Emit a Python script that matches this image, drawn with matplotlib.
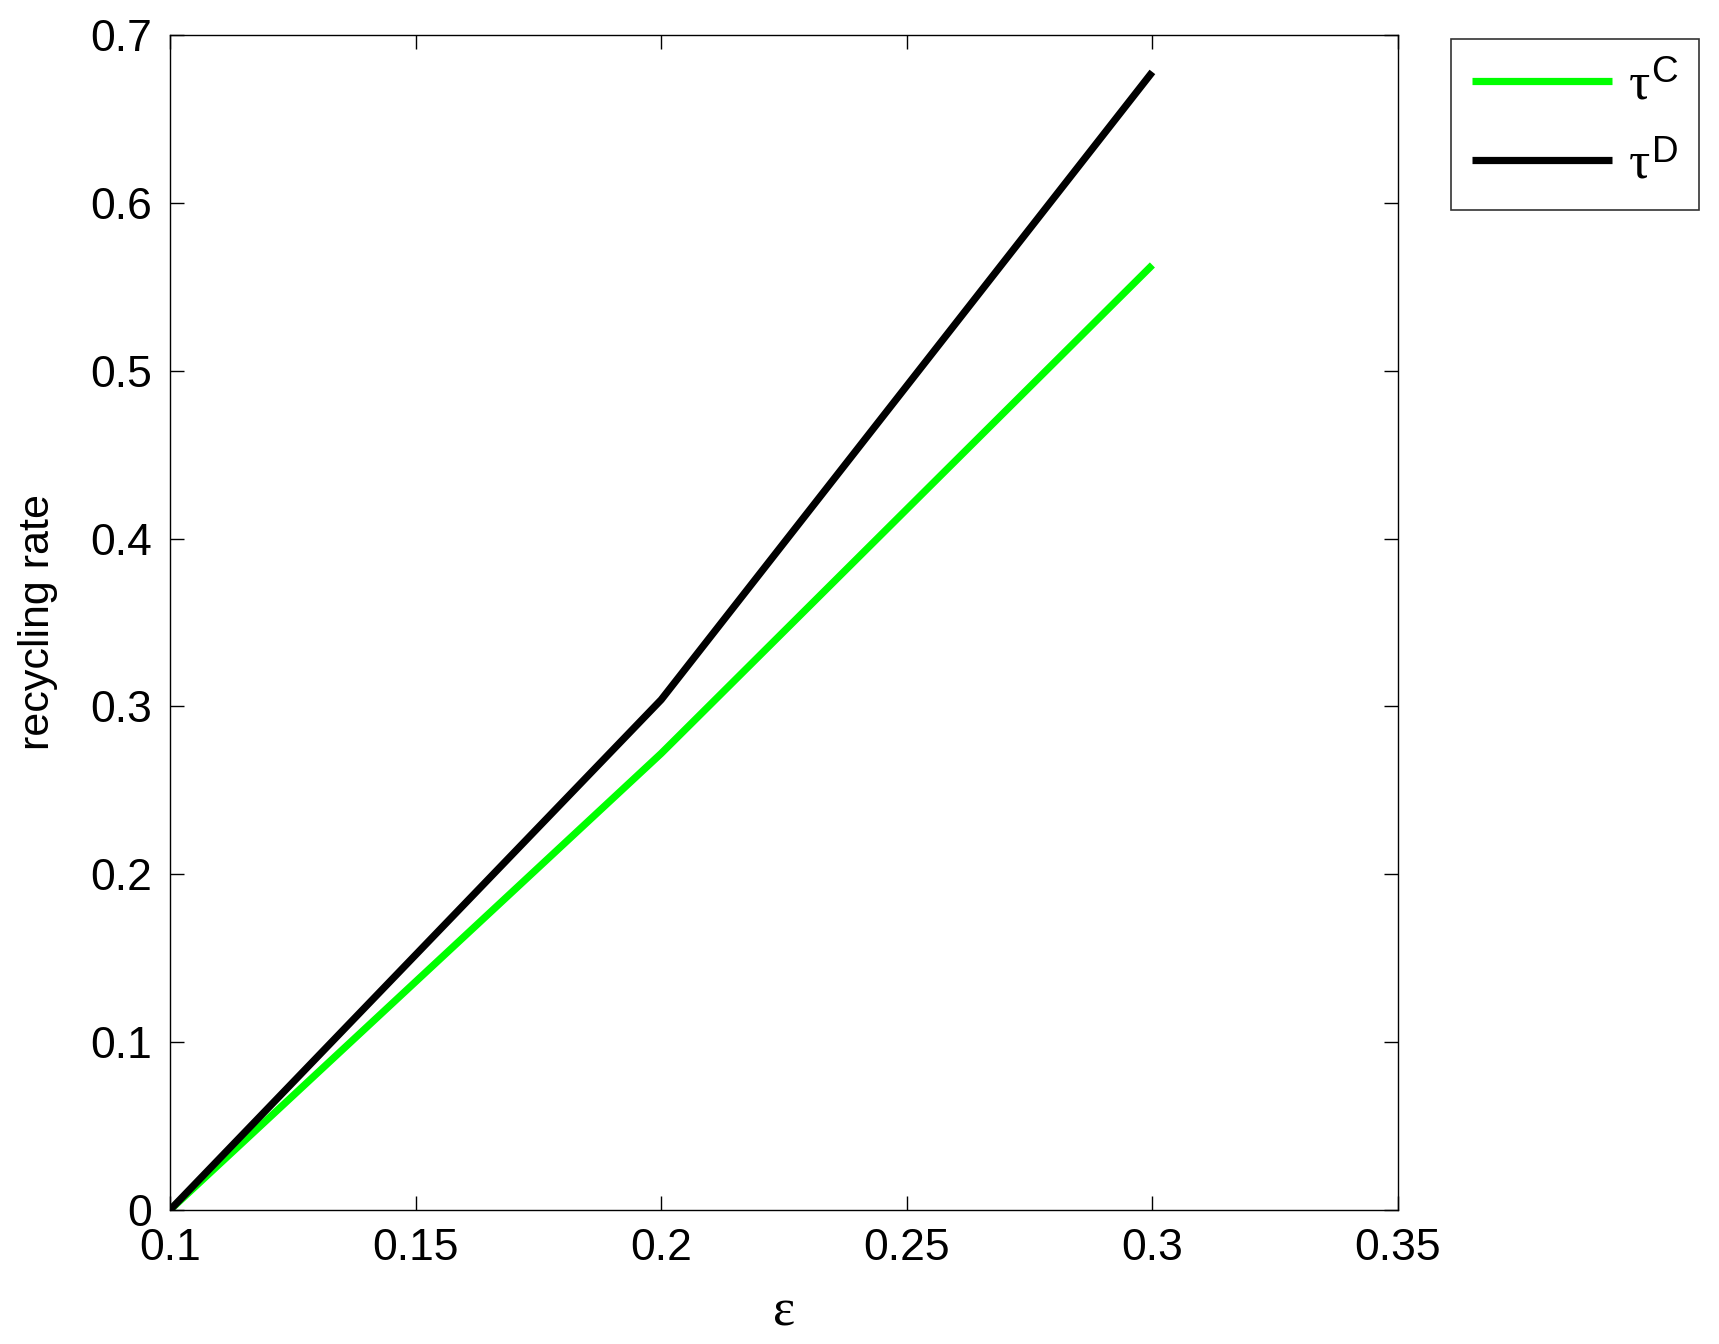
import matplotlib
matplotlib.use("Agg")
from matplotlib import pyplot as plt

eps = [0.1, 0.2, 0.3]
tau_c = [0.0, 0.272, 0.563]
tau_d = [0.0, 0.304, 0.678]

xticks = [0.1, 0.15, 0.2, 0.25, 0.3, 0.35]
yticks = [0, 0.1, 0.2, 0.3, 0.4, 0.5, 0.6, 0.7]

plt.rcParams['font.family'] = ['Liberation Sans', 'DejaVu Sans']
plt.rcParams['mathtext.fontset'] = 'custom'
plt.rcParams['mathtext.rm'] = 'Liberation Sans'
plt.rcParams['mathtext.it'] = 'Liberation Serif'

W, H = 1719, 1344
fig = plt.figure(figsize=(W / 100, H / 100), dpi=100)
ax = fig.add_axes([170 / W, 1 - 1210 / H, (1398 - 170) / W, (1210 - 35) / H])

ax.plot(eps, tau_c, color='#00ff00', lw=5.2, label=r'$\tau^{\mathrm{C}}$', solid_capstyle='butt')
ax.plot(eps, tau_d, color='black', lw=5.2, label=r'$\tau^{\mathrm{D}}$', solid_capstyle='butt')

ax.set_xlim(0.1, 0.35)
ax.set_ylim(0, 0.7)
ax.set_xticks(xticks)
ax.set_xticklabels(['0.1', '0.15', '0.2', '0.25', '0.3', '0.35'])
ax.set_yticks(yticks)
ax.set_yticklabels(['0', '0.1', '0.2', '0.3', '0.4', '0.5', '0.6', '0.7'])
ax.tick_params(direction='in', length=10, width=1, labelsize=32, top=True, right=True)
ax.tick_params(axis='x', pad=13)
ax.tick_params(axis='y', pad=13)
for s in ax.spines.values():
    s.set_linewidth(1)

ax.set_xlabel('ε', fontsize=38, family=['Liberation Serif', 'DejaVu Serif'], labelpad=14)
ax.set_ylabel('recycling rate', fontsize=31, labelpad=23)

leg = ax.legend(loc='upper left', bbox_to_anchor=(1451 / W, 1 - 39 / H),
                bbox_transform=fig.transFigure, fontsize=38, frameon=True,
                fancybox=False, edgecolor='black', handlelength=2.65,
                handletextpad=0.3, borderpad=0.4, labelspacing=0.55,
                borderaxespad=0)
leg.get_frame().set_linewidth(1.2)

fig.savefig('out.png', dpi=100)
